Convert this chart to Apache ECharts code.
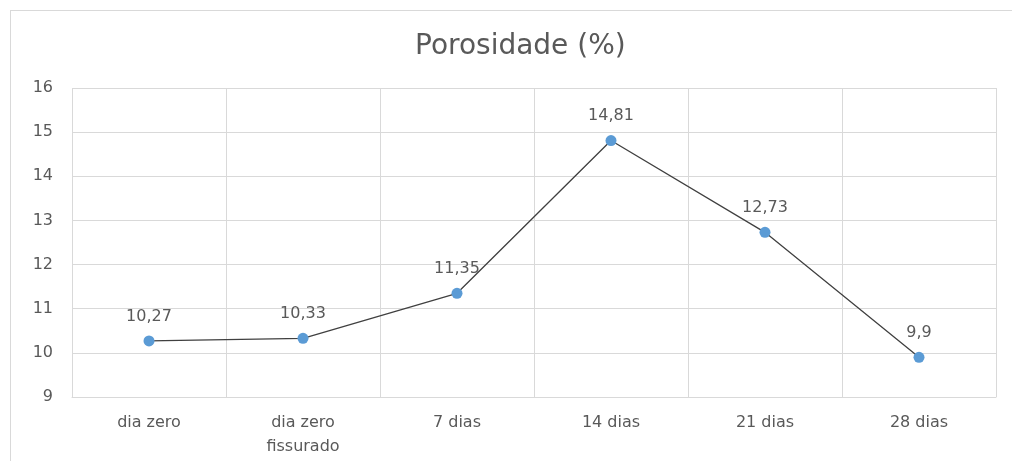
<!DOCTYPE html>
<html>
<head>
<meta charset="utf-8">
<script src="https://cdn.jsdelivr.net/npm/echarts@6/dist/echarts.min.js"></script>
<style>
  html, body { margin: 0; padding: 0; background: #fff; }
  #chart { width: 1012px; height: 461px; }
  #frame { position: absolute; left: 10px; top: 10px; width: 1010px; height: 460px; border: 1px solid #d9d9d9; box-sizing: border-box; pointer-events: none; }
</style>
</head>
<body>
<div id="chart"></div>
<div id="frame"></div>
<script>
// dados
var categorias = ["dia zero", "dia zero\nfissurado", "7 dias", "14 dias", "21 dias", "28 dias"];
var porosidade = [10.27, 10.33, 11.35, 14.81, 12.73, 9.9];

var fonte = "'DejaVu Sans', Verdana, sans-serif";
var cinza = "#595959";

var option = {
  animation: false,
  title: {
    text: "Porosidade (%)",
    left: 410,
    top: 28,
    textStyle: { fontFamily: fonte, fontSize: 28, fontWeight: "normal", color: cinza }
  },
  grid: { left: 72, right: 16, top: 88, bottom: 64 },
  xAxis: {
    type: "category",
    data: categorias,
    boundaryGap: true,
    axisTick: { show: false },
    axisLine: { lineStyle: { color: "#d9d9d9" } },
    splitLine: { show: true, lineStyle: { color: "#d9d9d9" } },
    axisLabel: { fontFamily: fonte, fontSize: 16, color: cinza, margin: 14, lineHeight: 24 }
  },
  yAxis: {
    type: "value",
    min: 9,
    max: 16,
    interval: 1,
    axisLine: { show: false },
    axisTick: { show: false },
    splitLine: { lineStyle: { color: "#d9d9d9" } },
    axisLabel: { fontFamily: fonte, fontSize: 16, color: cinza, margin: 19 }
  },
  series: [{
    type: "line",
    data: porosidade,
    symbol: "circle",
    symbolSize: 11,
    lineStyle: { color: "#404040", width: 1.3 },
    itemStyle: { color: "#5b9bd5" },
    label: {
      show: true,
      position: "top",
      distance: 11,
      fontFamily: fonte,
      fontSize: 16,
      color: cinza,
      formatter: function (p) { return String(p.value).replace(".", ","); }
    }
  }]
};

echarts.init(document.getElementById("chart")).setOption(option);
</script>
</body>
</html>
